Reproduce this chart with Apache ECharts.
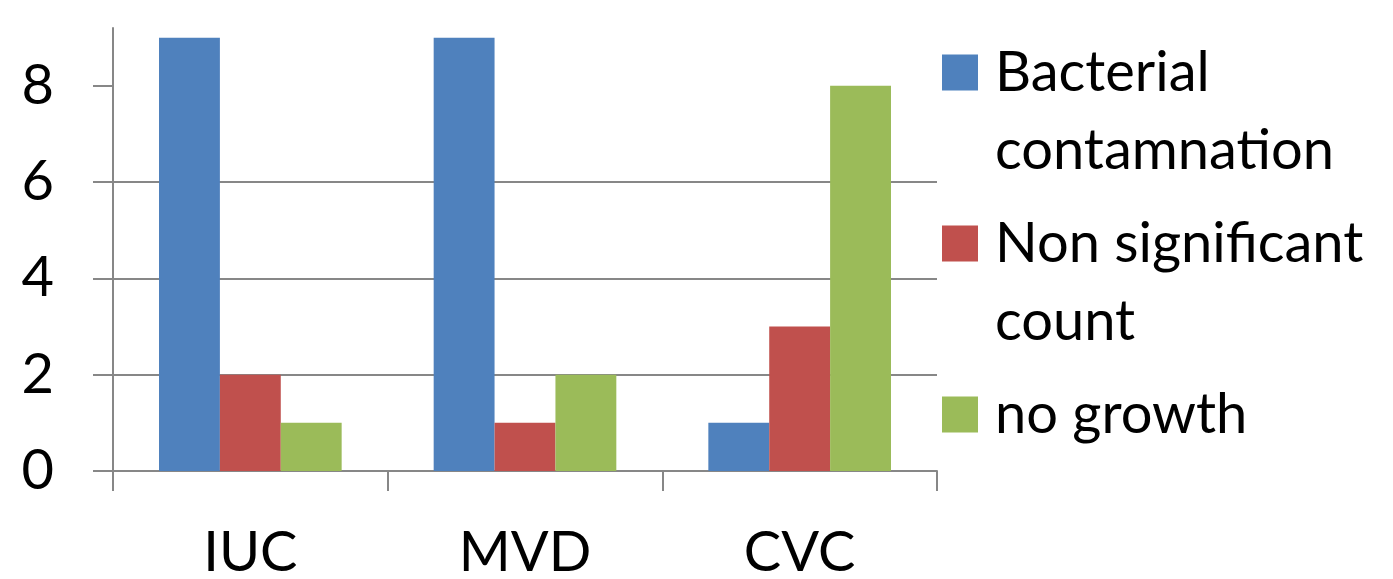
<!DOCTYPE html>
<html>
<head>
<meta charset="utf-8">
<script src="https://cdn.jsdelivr.net/npm/echarts@6/dist/echarts.min.js"></script>
<style>
  html, body { margin: 0; padding: 0; background: #fff; }
  #chart { width: 1393px; height: 579px; }
</style>
</head>
<body>
<div id="chart"></div>
<script>
// Culture results per device type
const categories = ['IUC', 'MVD', 'CVC'];
const bacterialContamination = [9, 9, 1];
const nonSignificantCount = [2, 1, 3];
const noGrowth = [1, 2, 8];
const yTicks = [0, 2, 4, 6, 8];

const seriesNames = ['Bacterial\ncontamnation', 'Non significant\ncount', 'no growth'];
const colors = ['#4F81BD', '#C0504D', '#9BBB59'];

const FONT = 'Lato';
const FS = 56;
const LH = 78;
const GRAY = '#878787';

const chart = echarts.init(document.getElementById('chart'), null, { renderer: 'canvas' });

// One legend per entry; a leading blank line keeps the swatch level with the first text line
function legendFor(name, iconCenter) {
  const lines = name.split('\n').length;
  const shown = lines > 1 ? ' \n' + name : name;
  const total = lines > 1 ? lines + 1 : 1;
  return {
    data: [name],
    formatter: function () { return shown; },
    left: 942,
    top: iconCenter - (LH * total) / 2,
    padding: 0,
    orient: 'vertical',
    itemWidth: 36,
    itemHeight: 36,
    icon: 'rect',
    selectedMode: false,
    textStyle: {
      fontFamily: FONT,
      fontSize: FS,
      lineHeight: LH,
      color: '#000',
      padding: [0, 0, 0, 12]
    }
  };
}

const option = {
  animation: false,
  backgroundColor: '#fff',
  grid: { left: 113, right: 456, top: 28, bottom: 108, containLabel: false, outerBoundsMode: 'none' },
  legend: [
    legendFor(seriesNames[0], 72.5),
    legendFor(seriesNames[1], 243.5),
    legendFor(seriesNames[2], 414.5)
  ],
  xAxis: {
    type: 'category',
    data: categories,
    boundaryGap: true,
    axisLine: { show: true, lineStyle: { color: GRAY, width: 2 } },
    axisTick: { show: true, alignWithLabel: false, length: 20, lineStyle: { color: GRAY, width: 2 } },
    axisLabel: { fontFamily: FONT, fontSize: FS, color: '#000', margin: 54 },
    splitLine: { show: false }
  },
  yAxis: {
    type: 'value',
    min: 0,
    max: 9.2,
    interval: 2,
    axisLine: { show: true, lineStyle: { color: GRAY, width: 2 } },
    axisTick: { show: true, length: 20, customValues: yTicks, lineStyle: { color: GRAY, width: 2 } },
    axisLabel: { fontFamily: FONT, fontSize: FS, color: '#000', margin: 59, customValues: yTicks },
    splitLine: { show: true, showMinLine: false, showMaxLine: false, lineStyle: { color: GRAY, width: 2 } }
  },
  series: [
    { name: seriesNames[0], type: 'bar', data: bacterialContamination, itemStyle: { color: colors[0] }, barGap: '0%', barCategoryGap: '33.5%' },
    { name: seriesNames[1], type: 'bar', data: nonSignificantCount, itemStyle: { color: colors[1] }, barGap: '0%', barCategoryGap: '33.5%' },
    { name: seriesNames[2], type: 'bar', data: noGrowth, itemStyle: { color: colors[2] }, barGap: '0%', barCategoryGap: '33.5%' }
  ]
};

chart.setOption(option);
</script>
</body>
</html>
